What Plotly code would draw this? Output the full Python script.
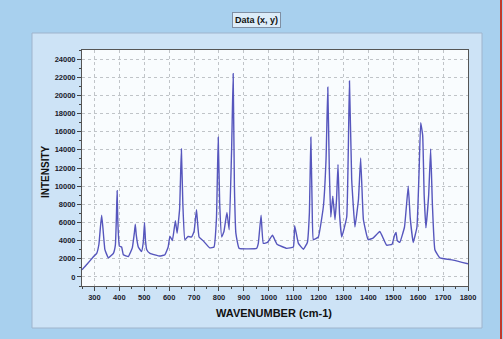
import plotly.graph_objects as go

wavenumber = [250, 270, 295, 309, 318, 324, 329, 334, 342, 356, 376, 384, 388, 391, 394, 400, 409, 416,
              436, 452, 460, 464, 468, 476, 489, 496, 501, 505, 510, 523, 563, 583, 596, 603, 613, 625,
              632, 642, 649, 655, 663, 676, 690, 700, 706, 710, 714, 720, 736, 763, 780, 790, 797, 803,
              811, 820, 832, 841, 851, 857, 862, 868, 881, 951, 958, 969, 978, 995, 1015, 1033, 1072,
              1099, 1104, 1119, 1139, 1155, 1163, 1169, 1174, 1179, 1199, 1219, 1230, 1237, 1243, 1249,
              1257, 1266, 1272, 1278, 1284, 1293, 1313, 1324, 1333, 1346, 1360, 1369, 1376, 1380, 1399,
              1420, 1446, 1473, 1495, 1505, 1511, 1516, 1526, 1545, 1560, 1568, 1580, 1595, 1604, 1610,
              1618, 1624, 1631, 1642, 1650, 1657, 1667, 1687, 1740, 1800]
intensity = [800, 1400, 2200, 2600, 3600, 5500, 6800, 5400, 3000, 2100, 2600, 3500, 6500, 9500, 6000, 3400,
             3300, 2450, 2250, 3200, 4800, 5800, 4600, 3300, 2800, 3800, 6000, 4000, 3000, 2600, 2300,
             2450, 3300, 4500, 4000, 6200, 4800, 7500, 14100, 8000, 4100, 4450, 4400, 5000, 6500, 7400,
             6000, 4400, 4000, 3200, 3300, 6500, 15400, 8000, 4400, 5000, 7100, 5200, 14300, 22400, 10000,
             4800, 3150, 3150, 3700, 6800, 3700, 3800, 4600, 3600, 3150, 3300, 5650, 3700, 3050, 3800,
             7000, 15400, 8000, 4100, 4400, 7700, 13000, 20900, 12000, 6600, 8900, 6300, 8500, 12400,
             7000, 4400, 6600, 21600, 10700, 5500, 8500, 13100, 8500, 6300, 4100, 4300, 5000, 3500, 3600,
             4600, 4900, 4000, 3800, 5500, 10000, 6500, 3800, 5500, 12000, 17000, 15600, 9000, 5400, 9000,
             14100, 8000, 3000, 2100, 1850, 1450]

x_ticks = list(range(300, 1900, 100))
y_ticks = list(range(0, 26000, 2000))

W, H = 503, 339
L, R, T, B = 82, 468, 50, 286
pw, ph = R - L, B - T


def px(x):
    return (x - L) / pw


def py(y):
    return (B - y) / ph


fig = go.Figure()
fig.add_trace(go.Scatter(x=wavenumber, y=intensity, mode="lines",
                         line=dict(color="#5656bd", width=1.4, shape="spline", smoothing=0.3),
                         hoverinfo="skip"))

tickfont = dict(family="Liberation Sans, Arial", size=7.5, color="#1a1a2a")
axis_common = dict(tickfont=tickfont, ticks="outside", ticklen=4, tickcolor="#444",
                   showgrid=True, gridcolor="#c0c4c8", griddash="dot", gridwidth=1,
                   showline=True, linecolor="#555", linewidth=1, mirror=True, zeroline=False)
fig.update_layout(
    width=W, height=H,
    margin=dict(l=L, r=W - R, t=T, b=H - B, autoexpand=False),
    paper_bgcolor="#a8d0ee",
    plot_bgcolor="#f9fcfe",
    showlegend=False,
    xaxis=dict(range=[250, 1800], tickvals=x_ticks, ticktext=[f"<b>{v}</b>" for v in x_ticks],
               minor=dict(dtick=50, ticks="outside", ticklen=2, tickcolor="#444", showgrid=False),
               **axis_common),
    yaxis=dict(range=[-1000, 25000], tickvals=y_ticks, ticktext=[f"<b>{v}</b>" for v in y_ticks],
               minor=dict(dtick=1000, ticks="outside", ticklen=2, tickcolor="#444", showgrid=False),
               **axis_common),
)

# inner lighter panel
fig.add_shape(type="rect", xref="paper", yref="paper", layer="below",
              x0=px(32), x1=px(482), y0=py(328), y1=py(33),
              fillcolor="#cde3f6", line=dict(color="#9fb4cc", width=1))
# plot area background (drawn over the panel)
fig.add_shape(type="rect", xref="paper", yref="paper", layer="below",
              x0=0, x1=1, y0=0, y1=1, fillcolor="#f9fcfe", line=dict(width=0))
# right red edge
fig.add_shape(type="line", xref="paper", yref="paper",
              x0=px(501), x1=px(501), y0=py(339), y1=py(0),
              line=dict(color="#c0392b", width=2))

fig.add_annotation(xref="paper", yref="paper", x=px(256), y=py(20), xanchor="center", yanchor="middle",
                   text="<b>Data (x, y)</b>", showarrow=False,
                   font=dict(family="Liberation Sans, Arial", size=9, color="#111"),
                   bgcolor="#dcecf9", bordercolor="#7f8fa3", borderwidth=1, borderpad=2)
fig.add_annotation(xref="paper", yref="paper", x=px(274), y=py(313), xanchor="center", yanchor="middle",
                   text="<b>WAVENUMBER (cm-1)</b>", showarrow=False,
                   font=dict(family="Liberation Sans, Arial", size=11, color="#111"))
fig.add_annotation(xref="paper", yref="paper", x=px(45), y=py(172), xanchor="center", yanchor="middle",
                   text="<b>INTENSITY</b>", textangle=-90, showarrow=False,
                   font=dict(family="Liberation Sans, Arial", size=10, color="#111"))

fig.write_html("out.html", config={"displayModeBar": False},
               post_script="document.body.style.margin='0px';document.body.style.overflow='hidden';")
